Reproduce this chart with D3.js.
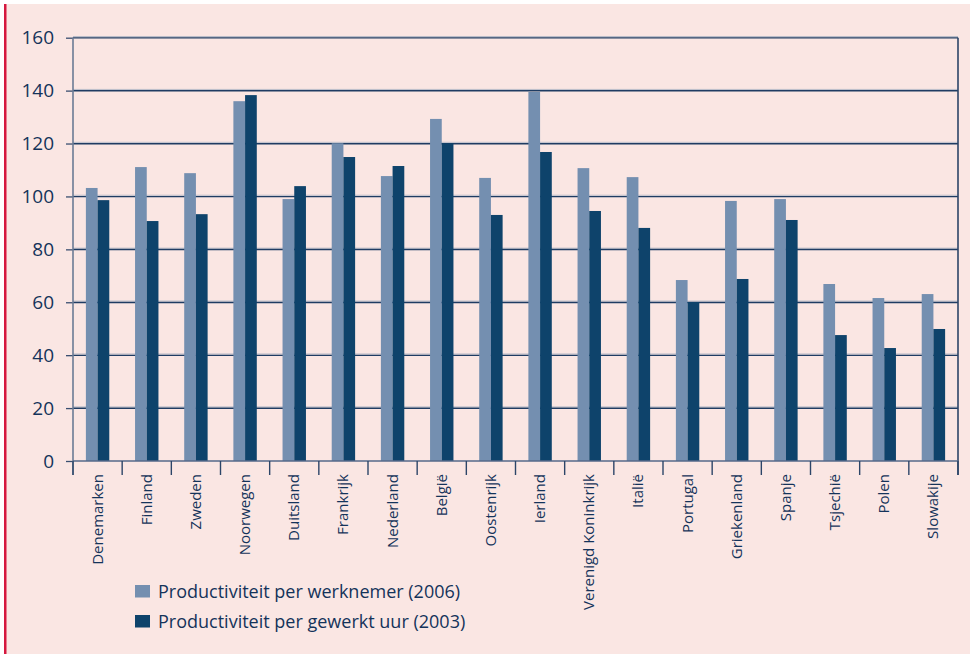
<!DOCTYPE html>
<html>
<head>
<meta charset="utf-8">
<script src="https://cdn.jsdelivr.net/npm/d3@7"></script>
<style>
  html, body { margin: 0; padding: 0; background: #ffffff; }
  svg { display: block; }
  text { font-family: "Open Sans", "Noto Sans", sans-serif; fill: #14335a; }
</style>
</head>
<body>
<svg id="chart" width="979" height="654"></svg>
<script>
// Productiviteit per land (index)
const countries = ["Denemarken", "Finland", "Zweden", "Noorwegen", "Duitsland", "Frankrijk",
  "Nederland", "België", "Oostenrijk", "Ierland", "Verenigd Koninkrijk", "Italië",
  "Portugal", "Griekenland", "Spanje", "Tsjechië", "Polen", "Slowakije"];
const perWerknemer2006 = [103.2, 111.1, 108.8, 136.0, 99.0, 120.1, 107.7, 129.3, 107.0,
  139.5, 110.7, 107.3, 68.4, 98.3, 99.0, 66.9, 61.6, 63.1];
const perUur2003 = [98.6, 90.7, 93.3, 138.3, 103.9, 114.9, 111.5, 120.1, 93.0,
  116.8, 94.5, 88.1, 60.1, 68.8, 91.1, 47.6, 42.7, 49.9];
const yTicks = [0, 20, 40, 60, 80, 100, 120, 140, 160];
const seriesNames = ["Productiviteit per werknemer (2006)", "Productiviteit per gewerkt uur (2003)"];
const seriesColors = ["#748fb0", "#0e436b"];

const svg = d3.select("#chart");

// panel background and red accent bar
svg.append("rect").attr("x", 6).attr("y", 4).attr("width", 964).attr("height", 650)
  .attr("fill", "#fae6e3");
svg.append("rect").attr("x", 4).attr("y", 4).attr("width", 2.5).attr("height", 650)
  .attr("fill", "#d5183f");

const plotLeft = 73, plotRight = 958, plotTop = 37.7, plotBottom = 461;

const x = d3.scaleBand().domain(countries).range([plotLeft, plotRight]).paddingInner(0).paddingOuter(0);
const y = d3.scaleLinear().domain([0, 160]).range([plotBottom, plotTop]);
const xs = d3.scaleBand().domain([0, 1]).range([0, 23.4]);
const offset = (x.bandwidth() - 23.4) / 2;

// horizontal gridlines
const grid = svg.append("g");
yTicks.filter(t => t > 0).forEach(t => {
  grid.append("line").attr("x1", plotLeft).attr("x2", plotRight)
    .attr("y1", y(t) - 1.2).attr("y2", y(t) - 1.2)
    .attr("stroke", "#b9bcc8").attr("stroke-width", 1);
  grid.append("line").attr("x1", plotLeft).attr("x2", plotRight)
    .attr("y1", y(t) + 0.2).attr("y2", y(t) + 0.2)
    .attr("stroke", "#1f3c63").attr("stroke-width", 1.4);
});

// bars
const series = [perWerknemer2006, perUur2003];
series.forEach((vals, si) => {
  svg.append("g").selectAll("rect").data(countries).join("rect")
    .attr("x", (d) => x(d) + offset + xs(si))
    .attr("width", xs.bandwidth())
    .attr("y", (d, i) => y(vals[i]))
    .attr("height", (d, i) => y(0) - y(vals[i]))
    .attr("fill", seriesColors[si]);
});

// y axis
const yAxis = svg.append("g").attr("transform", `translate(${plotLeft},0)`)
  .call(d3.axisLeft(y).tickValues(yTicks).tickSize(7).tickPadding(12).tickFormat(d3.format("d")));
yAxis.select(".domain").remove();
yAxis.selectAll(".tick line").attr("stroke", "#3a4f70").attr("stroke-width", 1.3);
yAxis.selectAll(".tick text").attr("font-size", 19).attr("fill", "#14335a")
  .attr("font-family", "Open Sans, sans-serif");
svg.append("line").attr("x1", plotLeft).attr("x2", plotLeft).attr("y1", plotTop).attr("y2", 475)
  .attr("stroke", "#6b7b95").attr("stroke-width", 1.6);
svg.append("line").attr("x1", plotRight).attr("x2", plotRight).attr("y1", plotTop).attr("y2", 475)
  .attr("stroke", "#2c4568").attr("stroke-width", 1.6);

// baseline
svg.append("line").attr("x1", plotLeft).attr("x2", plotRight).attr("y1", plotBottom).attr("y2", plotBottom)
  .attr("stroke", "#55698a").attr("stroke-width", 1.6);

// x axis with boundary ticks and rotated labels
const xAxis = svg.append("g").attr("transform", `translate(0,${plotBottom})`)
  .call(d3.axisBottom(x).tickSize(0).tickPadding(0));
xAxis.select(".domain").remove();
xAxis.selectAll(".tick text")
  .attr("font-size", 15)
  .attr("fill", "#14335a")
  .attr("font-family", "Open Sans, sans-serif")
  .attr("text-anchor", "end")
  .attr("dy", null)
  .attr("transform", "translate(5,13) rotate(-90)");
const bounds = countries.map(c => x(c)).concat([plotRight]);
svg.append("g").selectAll("line").data(bounds).join("line")
  .attr("x1", d => d).attr("x2", d => d).attr("y1", plotBottom).attr("y2", 475)
  .attr("stroke", "#2c4568").attr("stroke-width", 1.4);

// legend
const legend = svg.append("g");
seriesNames.forEach((name, i) => {
  const ly = 585 + i * 30;
  legend.append("rect").attr("x", 135).attr("y", ly).attr("width", 15).attr("height", 12.5)
    .attr("fill", seriesColors[i]);
  legend.append("text").attr("x", 158).attr("y", ly + 12.5).attr("font-size", 18)
    .text(name);
});
</script>
</body>
</html>
